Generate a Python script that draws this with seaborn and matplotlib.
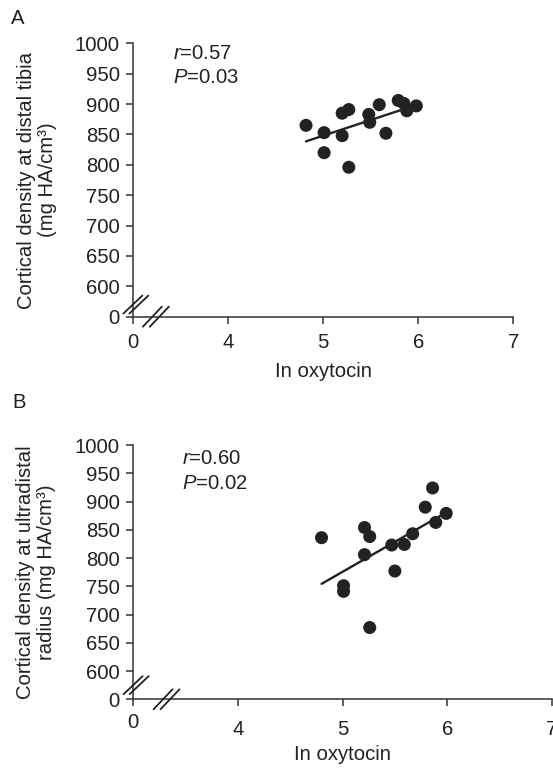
import matplotlib
matplotlib.use('Agg')
import seaborn as sns
import matplotlib.pyplot as plt
from matplotlib.lines import Line2D
from matplotlib.transforms import IdentityTransform, ScaledTranslation

# panel A: cortical density at distal tibia
a_oxytocin = [4.82, 5.01, 5.01, 5.20, 5.20, 5.27, 5.27, 5.48, 5.49, 5.59,
              5.66, 5.79, 5.85, 5.88, 5.98]
a_density = [865, 853, 820, 848, 885, 891, 796, 883, 870, 899,
             852, 906, 901, 889, 897]

# panel B: cortical density at ultradistal radius
b_oxytocin = [4.80, 5.01, 5.01, 5.21, 5.26, 5.21, 5.26, 5.47, 5.50, 5.59,
              5.67, 5.79, 5.86, 5.89, 5.99]
b_density = [836, 751, 741, 854, 838, 806, 677, 823, 777, 824,
             843, 890, 924, 863, 879]

x_ticks = [3, 4, 5, 6, 7]
x_ticklabels = ['0', '4', '5', '6', '7']
y_ticks = [550, 600, 650, 700, 750, 800, 850, 900, 950, 1000]
y_ticklabels = ['0', '600', '650', '700', '750', '800', '850', '900', '950', '1000']

INK = '#222222'
FS = 14.6


def break_marks(ax, x, y, dx=19, dy=18, gap=6):
    cx, cy = ax.transData.transform((x, y))
    for off in (-gap / 2, gap / 2):
        ax.figure.add_artist(Line2D(
            [cx + off - dx / 2, cx + off + dx / 2],
            [cy - dy / 2, cy + dy / 2],
            color=INK, lw=1.3, transform=IdentityTransform()))


def draw_panel(ax, x, y, ylabel, stats, text_pos, label_x, xlabel_y, pad):
    sns.regplot(x=x, y=y, ci=None, ax=ax,
                scatter_kws=dict(s=88, color=INK, edgecolor='none', alpha=1),
                line_kws=dict(color=INK, lw=1.7))
    ax.set_xlim(3, 7)
    ax.set_ylim(550, 1000)
    ax.set_xticks(x_ticks)
    ax.set_xticklabels(x_ticklabels)
    ax.set_yticks(y_ticks)
    ax.set_yticklabels(y_ticklabels)
    ax.tick_params(axis='both', direction='out', length=5, width=1.1,
                   color='#333333', labelcolor=INK, labelsize=FS)
    ax.tick_params(axis='x', pad=pad)
    ax.tick_params(axis='y', pad=4.5)
    sns.despine(ax=ax)
    for side in ('left', 'bottom'):
        ax.spines[side].set_linewidth(1.1)
        ax.spines[side].set_color('#333333')
    ax.set_xlabel('In oxytocin', fontsize=FS, color=INK, va='center')
    ax.xaxis.set_label_coords(0.5, xlabel_y)
    ax.set_ylabel(ylabel, fontsize=FS, color=INK, va='center', linespacing=1.1)
    ax.yaxis.set_label_coords(label_x, 0.5)
    tx, ty1, ty2 = text_pos
    ax.text(tx, ty1, r'$\mathit{r}$=' + stats[0], transform=ax.transAxes,
            fontsize=FS, color=INK, va='center')
    ax.text(tx, ty2, r'$\mathit{P}$=' + stats[1], transform=ax.transAxes,
            fontsize=FS, color=INK, va='center')


def main():
    sns.set_style('ticks')
    plt.rcParams['font.family'] = ['Liberation Sans', 'DejaVu Sans']
    plt.rcParams['mathtext.fontset'] = 'custom'
    plt.rcParams['mathtext.rm'] = 'Liberation Sans'
    plt.rcParams['mathtext.it'] = 'Liberation Sans:italic'

    fig = plt.figure(figsize=(5.53, 7.71), dpi=100)
    ax_a = fig.add_axes([0.2405, 0.5892, 0.6877, 0.3546])
    ax_b = fig.add_axes([0.2405, 0.0930, 0.7577, 0.3298])

    draw_panel(ax_a, a_oxytocin, a_density,
               'Cortical density at distal tibia\n(mg HA/cm³)',
               ('0.57', '0.03'), (0.105, 0.963, 0.876), -0.253, -0.199, 7)
    draw_panel(ax_b, b_oxytocin, b_density,
               'Cortical density at ultradistal\nradius (mg HA/cm³)',
               ('0.60', '0.02'), (0.1165, 0.948, 0.849), -0.232, -0.219, 10)

    # the "0" under the broken x axis of panel B sits a little higher
    lab = ax_b.get_xticklabels()[0]
    lab.set_transform(lab.get_transform()
                      + ScaledTranslation(0, 7 / 100, fig.dpi_scale_trans))

    fig.text(18 / 553, 1 - 18 / 771, 'A', fontsize=FS, color=INK,
             ha='center', va='center')
    fig.text(19 / 553, 1 - 402 / 771, 'B', fontsize=FS, color=INK,
             ha='center', va='center')

    fig.canvas.draw()
    break_marks(ax_a, 3.03, 570)
    break_marks(ax_a, 3.24, 550, dy=20, gap=7)
    break_marks(ax_b, 3.03, 575)
    break_marks(ax_b, 3.32, 550, dy=20, gap=7)

    fig.savefig('out.png', dpi=100)


if __name__ == "__main__":
    main()
